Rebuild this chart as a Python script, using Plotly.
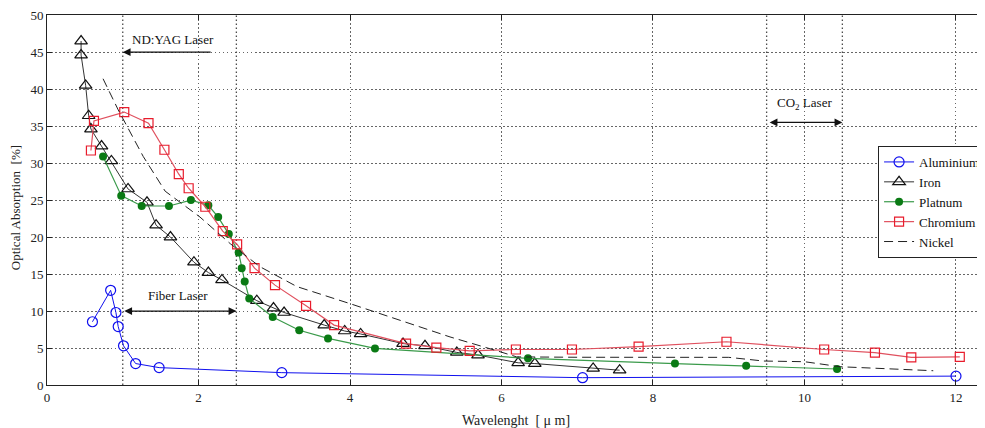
import plotly.graph_objects as go

# ---- data ----
al_x = [0.60, 0.84, 0.91, 0.94, 1.01, 1.17, 1.48, 3.10, 7.07, 12.0]
al_y = [8.55, 12.8, 9.8, 7.9, 5.3, 2.9, 2.35, 1.67, 0.99, 1.2]

fe_x = [0.45, 0.45, 0.51, 0.55, 0.58, 0.72, 0.85, 1.07, 1.32, 1.44, 1.63, 1.94, 2.13,
        2.31, 2.77, 2.99, 3.13, 3.66, 3.93, 4.14, 4.70, 4.99, 5.41, 5.69, 6.22, 6.44,
        7.21, 7.56]
fe_y = [46.5, 44.6, 40.5, 36.4, 34.6, 32.3, 30.3, 26.5, 24.7, 21.6, 20.0, 16.6, 15.2,
        14.2, 11.4, 10.4, 9.8, 8.1, 7.3, 6.9, 5.6, 5.3, 4.4, 4.05, 3.0, 2.9, 2.25, 2.0]

pt_x = [0.74, 0.98, 1.25, 1.61, 1.90, 2.13, 2.26, 2.40, 2.53, 2.57, 2.61, 2.67, 2.98,
        3.33, 3.71, 4.33, 6.35, 8.29, 9.23, 10.43]
pt_y = [30.9, 25.6, 24.2, 24.2, 25.0, 24.3, 22.7, 20.4, 17.9, 15.8, 14.0, 11.7, 9.2,
        7.4, 6.3, 4.95, 3.6, 2.9, 2.6, 2.16]

cr_x = [0.58, 0.62, 1.02, 1.34, 1.55, 1.74, 1.87, 2.09, 2.32, 2.51, 2.74, 3.01, 3.42,
        3.79, 4.74, 5.14, 5.58, 6.19, 6.93, 7.81, 8.97, 10.26, 10.93, 11.41, 12.05]
cr_y = [31.7, 35.7, 36.9, 35.4, 31.8, 28.5, 26.6, 24.1, 20.8, 19.0, 15.8, 13.5, 10.7,
        8.1, 5.6, 5.05, 4.6, 4.8, 4.8, 5.2, 5.85, 4.8, 4.37, 3.74, 3.8]

ni_x = [0.74, 0.94, 1.27, 1.56, 2.02, 2.42, 2.81, 3.30, 4.00, 4.66, 5.32, 5.98, 6.20,
        7.00, 9.00, 9.46, 10.0, 10.47, 11.7]
ni_y = [41.4, 37.2, 30.9, 26.2, 22.7, 19.1, 16.0, 13.3, 11.0, 8.8, 6.5, 4.5, 3.8,
        3.75, 3.74, 3.24, 3.15, 2.47, 1.93]

x_ticks = [0, 2, 4, 6, 8, 10, 12]
y_ticks = [0, 5, 10, 15, 20, 25, 30, 35, 40, 45, 50]
laser_lines = [1.0, 2.5, 9.5, 10.5]

SERIF = "Liberation Serif, Times New Roman, serif"
GRID_DASH = "1.5px,2.5px"

fig = go.Figure()
fig.add_trace(go.Scatter(x=al_x, y=al_y, name="Aluminium", mode="lines+markers",
                         line=dict(color="#1010ee", width=1),
                         marker=dict(symbol="circle-open", size=10, color="#1010ee",
                                     line=dict(width=1.2))))
fig.add_trace(go.Scatter(x=fe_x, y=fe_y, name="Iron", mode="lines+markers",
                         line=dict(color="#333333", width=1),
                         marker=dict(symbol="triangle-up-open", size=11, color="#111111",
                                     line=dict(width=1.2))))
fig.add_trace(go.Scatter(x=pt_x, y=pt_y, name="Platnum", mode="lines+markers",
                         line=dict(color="#3a9a4a", width=1.2),
                         marker=dict(symbol="circle", size=8, color="#0a7a14")))
fig.add_trace(go.Scatter(x=cr_x, y=cr_y, name="Chromium", mode="lines+markers",
                         line=dict(color="#e0505e", width=1.2),
                         marker=dict(symbol="square-open", size=9, color="#e81c2c",
                                     line=dict(width=1.2))))
fig.add_trace(go.Scatter(x=ni_x, y=ni_y, name="Nickel", mode="lines",
                         line=dict(color="#222222", width=1, dash="9px,5px")))

for lx in laser_lines:
    fig.add_shape(type="line", x0=lx, x1=lx, y0=0, y1=50, xref="x", yref="y",
                  line=dict(color="rgba(0,0,0,0.7)", width=1.3, dash=GRID_DASH), layer="below")

# annotations / arrows
fig.add_annotation(x=1.0, y=45, ax=2.18, ay=45, xref="x", yref="y", axref="x", ayref="y",
                   text="", showarrow=True, arrowhead=2, arrowsize=1.2, arrowwidth=1.3,
                   arrowcolor="#111")
fig.add_annotation(x=1.1, y=46.7, text="ND:YAG Laser", showarrow=False, xanchor="left",
                   font=dict(family=SERIF, size=13, color="#111"))
fig.add_annotation(x=2.5, y=10, ax=1.0, ay=10, xref="x", yref="y", axref="x", ayref="y",
                   text="", showarrow=True, arrowhead=2, startarrowhead=2,
                   arrowside="end+start", arrowsize=1.2, arrowwidth=1.3, arrowcolor="#111")
fig.add_annotation(x=1.73, y=12.1, text="Fiber Laser", showarrow=False,
                   font=dict(family=SERIF, size=13, color="#111"))
fig.add_annotation(x=10.5, y=35.5, ax=9.52, ay=35.5, xref="x", yref="y", axref="x", ayref="y",
                   text="", showarrow=True, arrowhead=2, startarrowhead=2,
                   arrowside="end+start", arrowsize=1.2, arrowwidth=1.3, arrowcolor="#111")
fig.add_annotation(x=10.0, y=38.0, text="CO<sub>2</sub> Laser", showarrow=False,
                   font=dict(family=SERIF, size=13, color="#111"))
# y-axis title (as annotation so it can sit slightly below centre like the reference)
fig.add_annotation(x=-0.034, y=0.478, xref="paper", yref="paper", textangle=-90,
                   text="Optical Absorption  [%]", showarrow=False,
                   xanchor="center", yanchor="middle",
                   font=dict(family=SERIF, size=13, color="#222"))

axis_common = dict(showline=True, linecolor="#222", linewidth=1, ticks="inside",
                   ticklen=5, tickcolor="#222", showgrid=True,
                   gridcolor="rgba(0,0,0,0.6)", griddash=GRID_DASH, gridwidth=1,
                   zeroline=False, ticklabeloverflow="allow",
                   tickfont=dict(family=SERIF, size=13, color="#222"))

fig.update_xaxes(range=[0, 12.383], tickvals=x_ticks, mirror="ticks",
                 title=dict(text="Wavelenght  [ μ m]", standoff=12,
                            font=dict(family=SERIF, size=14, color="#222")),
                 **axis_common)
fig.update_yaxes(range=[0, 50.02], tickvals=y_ticks, **axis_common)

# page body has an 8px margin, so figure is sized/offset to land the plot where the reference has it
fig.update_layout(
    width=977, height=420,
    margin=dict(l=39, r=0, t=7, b=43, autoexpand=False),
    paper_bgcolor="white", plot_bgcolor="white",
    showlegend=True,
    legend=dict(x=0.886, y=0.646, xanchor="left", yanchor="top",
                bgcolor="white", bordercolor="#222", borderwidth=1,
                font=dict(family=SERIF, size=13, color="#111"),
                tracegroupgap=0, itemwidth=30),
)

fig.write_html("out.html")
